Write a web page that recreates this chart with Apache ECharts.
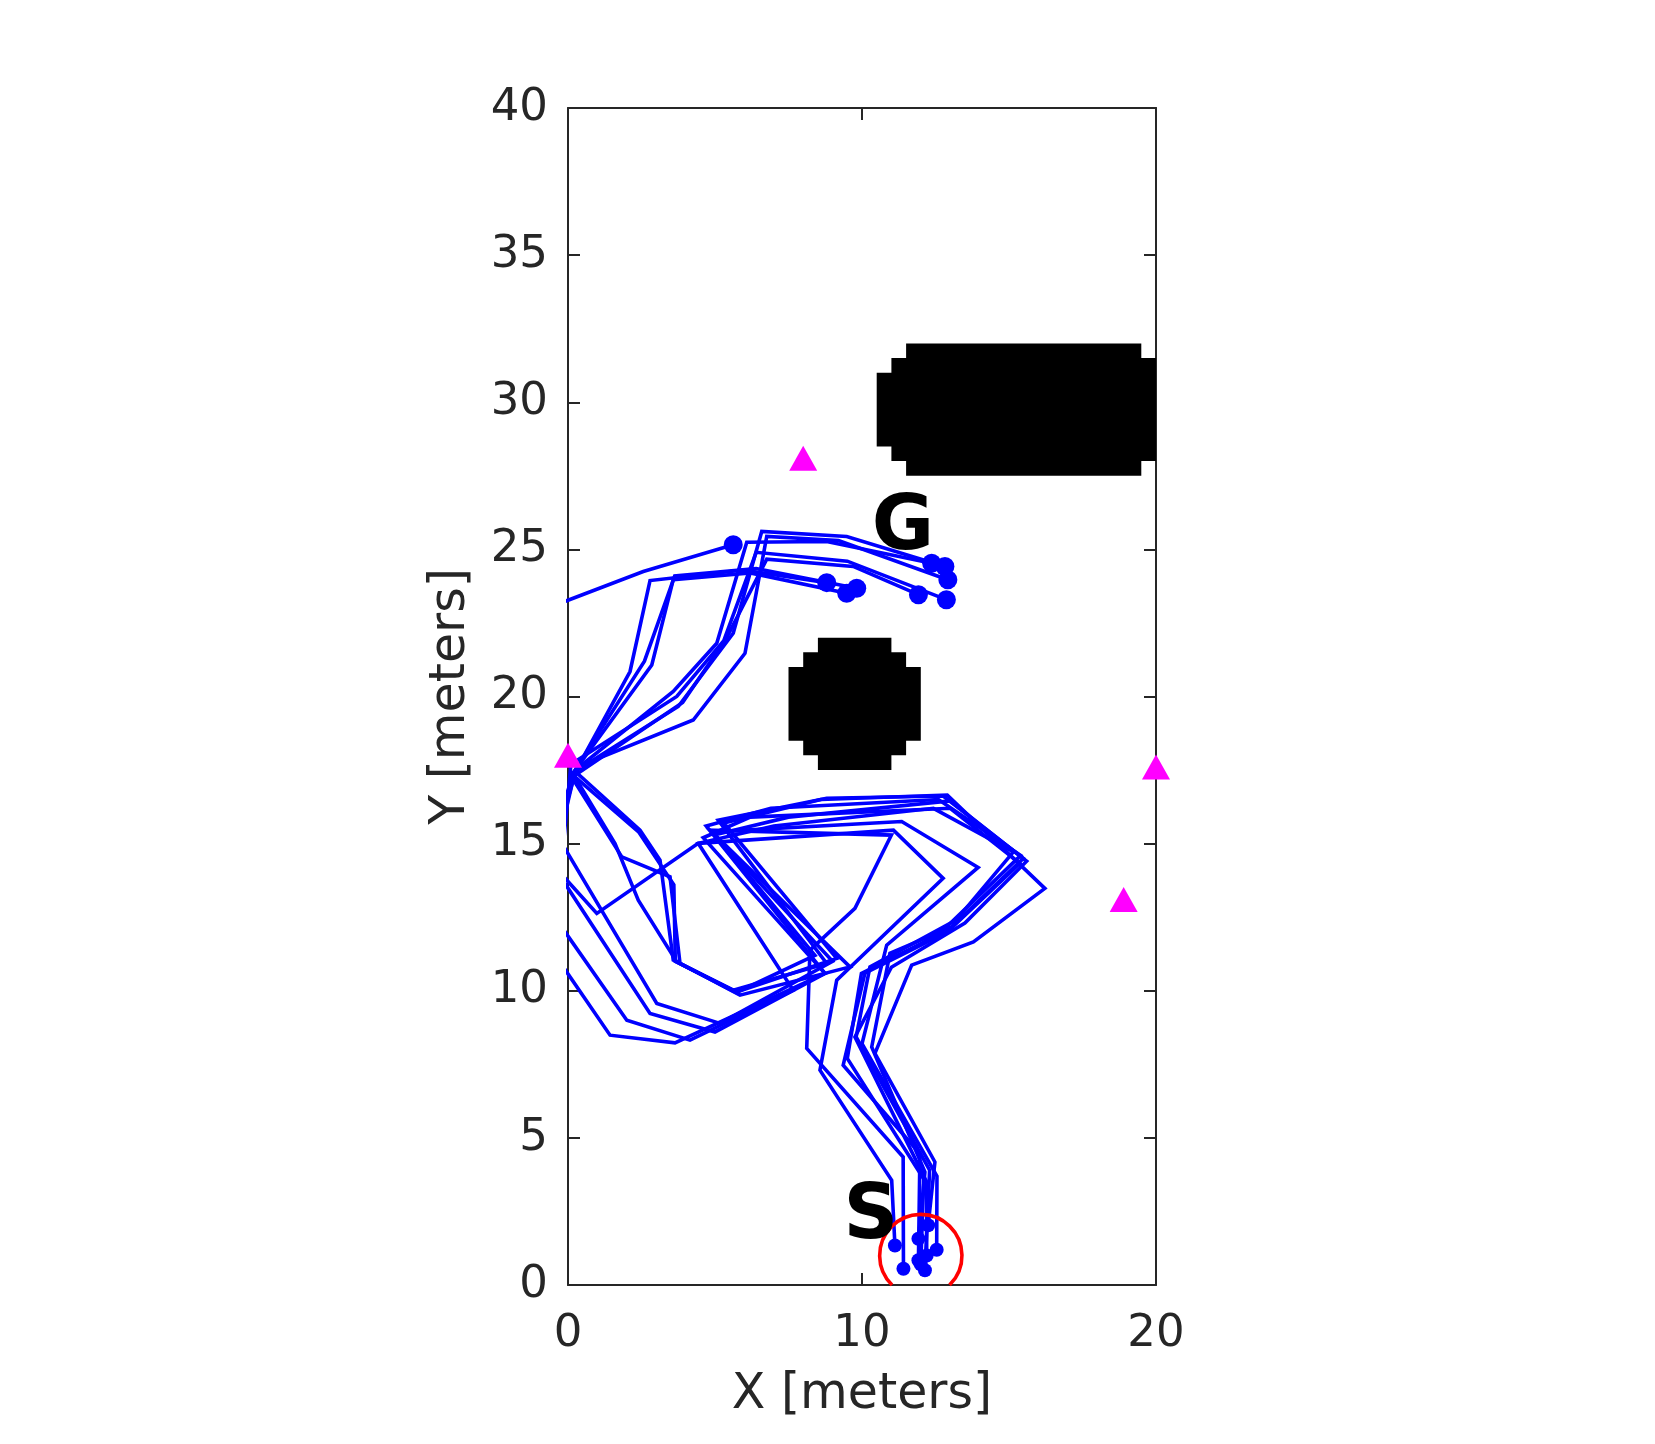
<!DOCTYPE html>
<html><head><meta charset="utf-8">
<script src="https://cdn.jsdelivr.net/npm/echarts@6/dist/echarts.min.js"></script>
<style>html,body{margin:0;padding:0;background:#fff}#c{width:1655px;height:1444px}</style>
</head><body><div id="c"></div>
<script>
// ---- data ----
const xRange = [0, 20];
const yRange = [0, 40];
const xInterval = 10;
const yInterval = 5;
const xName = 'X [meters]';
const yName = 'Y [meters]';

const traj1 = [[11.12,1.34],[11.01,3.56],[8.57,7.30],[9.14,10.36],[12.76,13.82],[11.07,15.46],[4.43,15.01],[0.98,12.63],[-0.8,14.6],[-0.3,17.6],[-1.5,22.7],[2.56,24.25],[5.62,25.16]];
const traj2 = [[11.92,1.57],[12.14,3.84],[10.33,8.09],[10.95,11.27],[13.05,12.17],[15.49,14.50],[12.76,16.62],[8.80,16.54],[5.11,15.80],[8.80,10.93],[5.62,10.02],[3.58,11.04],[3.13,14.44],[2.45,15.46],[0.25,17.45],[2.11,20.85],[2.79,23.94],[5.96,24.30],[8.80,23.87]];
const traj3 = [[11.41,0.55],[11.40,4.35],[8.12,8.04],[8.23,11.38],[9.76,12.80],[11.00,15.29],[4.83,15.46],[9.59,10.81],[5.85,9.85],[3.81,10.93],[3.47,13.87],[1.83,14.55],[0.10,17.30],[2.85,21.07],[3.58,23.97],[6.20,24.20],[9.48,23.51]];
const traj4 = [[11.92,0.84],[11.97,4.46],[9.36,7.47],[10.10,10.60],[12.90,12.00],[15.37,14.33],[13.00,16.20],[6.20,15.90],[4.60,15.20],[8.74,10.59],[5.00,8.60],[2.79,9.23],[-0.60,14.40],[0.30,17.60],[2.60,21.20],[3.63,24.10],[6.40,24.35],[9.82,23.68]];
const traj5 = [[12.14,0.50],[12.30,3.90],[9.80,8.43],[10.27,10.81],[13.20,12.40],[15.15,14.72],[12.43,16.20],[7.00,15.60],[4.43,15.01],[7.66,10.02],[4.15,8.32],[2.00,9.00],[-0.80,13.00],[0.25,17.50],[3.58,20.17],[5.06,21.81],[6.08,25.24],[8.80,25.27],[12.37,24.53]];
const traj6 = [[12.25,2.03],[12.48,4.18],[10.44,7.87],[11.69,10.87],[13.79,11.66],[16.22,13.48],[12.90,16.65],[8.60,16.50],[5.30,15.70],[9.14,11.10],[5.70,9.95],[3.70,10.98],[2.39,13.08],[1.60,15.00],[0.15,17.40],[3.75,19.66],[5.62,22.15],[6.59,25.61],[9.48,25.44],[12.82,24.42]];
const traj7 = [[12.54,1.20],[12.55,3.70],[10.00,8.20],[10.84,11.55],[13.95,14.19],[11.35,15.75],[4.90,15.40],[9.00,11.00],[5.17,8.89],[3.02,9.57],[-0.50,15.50],[0.30,17.60],[4.26,19.20],[6.02,21.47],[6.76,25.44],[9.20,25.30],[12.92,23.97]];
const traj8 = [[12.20,1.00],[12.20,3.50],[9.76,8.43],[11.00,10.80],[13.50,12.30],[15.60,14.40],[13.00,16.45],[7.50,15.90],[5.00,15.30],[8.40,11.20],[5.75,9.95],[3.65,11.00],[3.60,13.60],[2.40,15.40],[0.20,17.30],[3.90,19.80],[5.40,22.00],[6.76,24.67],[9.70,24.42],[11.92,23.46]];
const traj9 = [[12.00,0.70],[12.10,3.60],[9.50,7.70],[9.98,10.59],[12.60,11.90],[15.40,14.60],[12.60,16.50],[6.90,16.20],[4.70,15.60],[8.74,10.59],[3.64,8.23],[1.43,8.49],[-0.50,11.30],[0.10,17.70],[3.70,20.00],[5.30,21.90],[6.40,24.90],[9.50,24.60],[12.87,23.29]];
const trajectories = [traj1, traj2, traj3, traj4, traj5, traj6, traj7, traj8, traj9];

// obstacles as [x0, y0, x1, y1]
const obstacleBig = [[11.5,27.5,19.5,32.0],[11.0,28.0,20.0,31.5],[10.5,28.5,20.0,31.0]];
const obstacleSmall = [[8.5,17.5,11.0,22.0],[8.0,18.0,11.5,21.5],[7.5,18.5,12.0,21.0]];

const landmarks = [[8.0,28.1],[0.0,18.0],[20.0,17.6],[18.9,13.1]];
const startCircle = [[12.0, 1.0, 1.4]];
const labels = [[11.39, 25.68, 'G'], [10.3, 2.28, 'S']];

// ---- chart ----
const chart = echarts.init(document.getElementById('c'), null, {renderer: 'canvas'});
const AX = '#262626';
const FONT = 'DejaVu Sans';

function axisCommon(extra) {
  return Object.assign({
    type: 'value',
    axisLine: {show: true, onZero: false, lineStyle: {color: AX, width: 2}},
    axisTick: {show: true, inside: true, length: 12, lineStyle: {color: AX, width: 2}},
    splitLine: {show: false},
  }, extra);
}

const series = [];
series.push({
  type: 'custom', silent: true, z: 1,
  data: obstacleBig.concat(obstacleSmall),
  encode: {x: [0, 2], y: [1, 3]},
  renderItem: function (params, api) {
    const p0 = api.coord([api.value(0), api.value(1)]);
    const p1 = api.coord([api.value(2), api.value(3)]);
    return {type: 'rect', shape: {x: p0[0], y: p1[1], width: p1[0] - p0[0], height: p0[1] - p1[1]},
      style: {fill: '#000000'}};
  }
});
trajectories.forEach(function (t) {
  series.push({
    type: 'line', data: t, showSymbol: false, symbol: 'none', clip: true, silent: true, z: 3,
    lineStyle: {color: '#0000ff', width: 3.6, opacity: 1, join: 'miter', miterLimit: 4}
  });
});
series.push({
  type: 'scatter', silent: true, z: 4, clip: false,
  data: trajectories.map(function (t) { return t[0]; }),
  symbol: 'circle', symbolSize: 14, itemStyle: {color: '#0000ff', opacity: 1}
});
series.push({
  type: 'scatter', silent: true, z: 4, clip: false,
  data: trajectories.map(function (t) { return t[t.length - 1]; }),
  symbol: 'circle', symbolSize: 19, itemStyle: {color: '#0000ff', opacity: 1}
});
series.push({
  type: 'scatter', silent: true, z: 6, clip: false,
  data: landmarks, symbol: 'triangle', symbolSize: [28, 25], itemStyle: {color: '#ff00ff', opacity: 1}
});
series.push({
  type: 'custom', silent: true, z: 5,
  data: startCircle,
  encode: {x: 0, y: 1},
  renderItem: function (params, api) {
    const c = api.coord([api.value(0), api.value(1)]);
    const r = api.size([api.value(2), 0])[0];
    const yb = api.coord([0, 0])[1];
    const d = yb - c[1];
    let a0 = 0, a1 = Math.PI * 2;
    if (d < r) { const a = Math.asin(d / r); a0 = Math.PI - a; a1 = Math.PI * 2 + a; }
    return {type: 'arc', shape: {cx: c[0], cy: c[1], r: r, startAngle: a0, endAngle: a1, clockwise: true},
      style: {stroke: '#ff0000', lineWidth: 3.6, fill: null}};
  }
});
series.push({
  type: 'custom', silent: true, z: 7,
  data: labels.map(function (l) { return [l[0], l[1]]; }),
  encode: {x: 0, y: 1},
  renderItem: function (params, api) {
    const p = api.coord([api.value(0), api.value(1)]);
    return {type: 'text', x: p[0], y: p[1],
      style: {text: labels[params.dataIndex][2], fontSize: 76, fontWeight: 'bold', fontFamily: FONT,
        fill: '#000000', align: 'center', verticalAlign: 'middle'}};
  }
});

chart.setOption({
  animation: false,
  backgroundColor: '#ffffff',
  grid: {left: 568, right: 499, top: 108, bottom: 159, containLabel: false},
  xAxis: [
    axisCommon({min: xRange[0], max: xRange[1], interval: xInterval, position: 'bottom',
      name: xName, nameLocation: 'middle', nameGap: 86,
      nameTextStyle: {color: AX, fontSize: 49, fontFamily: FONT},
      axisLabel: {color: AX, fontSize: 45, fontFamily: FONT, margin: 27}}),
    axisCommon({min: xRange[0], max: xRange[1], interval: xInterval, position: 'top',
      axisLabel: {show: false}})
  ],
  yAxis: [
    axisCommon({min: yRange[0], max: yRange[1], interval: yInterval, position: 'left',
      name: yName, nameLocation: 'middle', nameGap: 92, nameRotate: 90,
      nameTextStyle: {color: AX, fontSize: 49, fontFamily: FONT},
      axisLabel: {color: AX, fontSize: 45, fontFamily: FONT, margin: 20}}),
    axisCommon({min: yRange[0], max: yRange[1], interval: yInterval, position: 'right',
      axisLabel: {show: false}})
  ],
  series: series
});
</script>
</body></html>
